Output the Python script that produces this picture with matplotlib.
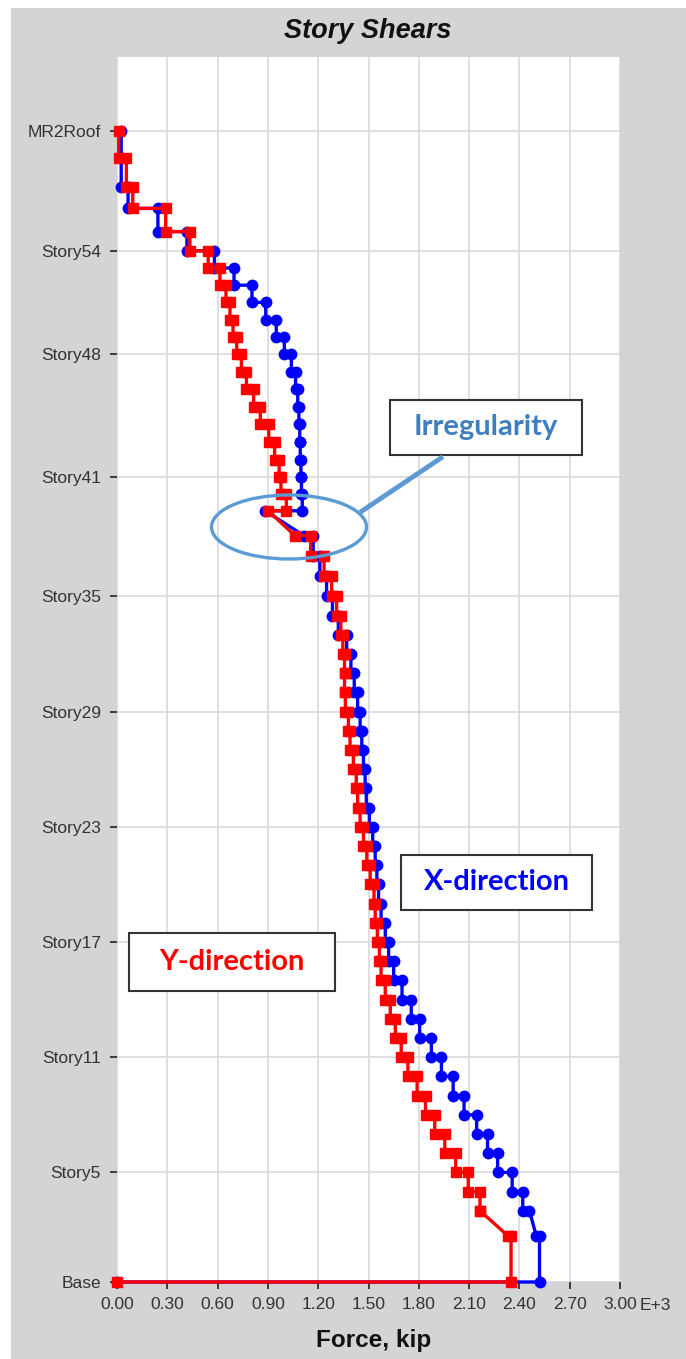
import numpy as np
import matplotlib.pyplot as plt
from matplotlib.patches import Rectangle, Ellipse
from matplotlib.lines import Line2D

plt.rcParams['font.family'] = ['Liberation Sans', 'DejaVu Sans']

# story heights (ft), top story first
story_heights = ([17, 18, 13.5, 14.5, 12] + [10.75] * 6 + [11] * 7
                 + [10.5, 10.5, 15.5, 13, 12.5, 12.5] + [12] * 30
                 + [12, 12, 15.5, 29])

# labelled levels (index from the top level) and their names
tick_levels = [0, 5, 11, 18, 24, 30, 36, 42, 48, 54, 58]
tick_names = ["MR2Roof", "Story54", "Story48", "Story41", "Story35", "Story29",
              "Story23", "Story17", "Story11", "Story5", "Base"]

x_ticks = [0.0, 0.3, 0.6, 0.9, 1.2, 1.5, 1.8, 2.1, 2.4, 2.7, 3.0]

# story shear at top of each story (E+3 kip), top story first
shear_x = [0.025, 0.025, 0.066, 0.244, 0.417, 0.581, 0.698, 0.805, 0.887, 0.95,
           0.998, 1.04, 1.065, 1.078, 1.085, 1.09, 1.093, 1.097, 1.10, 1.105,
           0.883, 1.17, 1.21, 1.25, 1.285, 1.32, 1.37, 1.395, 1.415, 1.435,
           1.45, 1.46, 1.47, 1.48, 1.487, 1.505, 1.525, 1.54, 1.55, 1.56,
           1.575, 1.60, 1.62, 1.65, 1.70, 1.755, 1.805, 1.875, 1.935, 2.005,
           2.07, 2.145, 2.21, 2.27, 2.357, 2.42, 2.46, 2.52]
shear_y = [0.01, 0.056, 0.094, 0.29, 0.435, 0.544, 0.614, 0.65, 0.674, 0.692,
           0.714, 0.742, 0.772, 0.815, 0.855, 0.905, 0.94, 0.967, 0.978, 1.01,
           0.902, 1.155, 1.235, 1.28, 1.31, 1.335, 1.347, 1.357, 1.357, 1.362,
           1.38, 1.39, 1.41, 1.427, 1.435, 1.45, 1.47, 1.49, 1.51, 1.533,
           1.54, 1.553, 1.565, 1.575, 1.60, 1.63, 1.66, 1.695, 1.735, 1.79,
           1.84, 1.895, 1.955, 2.02, 2.095, 2.165, 2.165, 2.35]
# stories whose shear at the bottom differs from the top
shear_x_bottom = {20: 1.115, 56: 2.50}
shear_y_bottom = {20: 1.061, 56: 2.33}

W, H = 686, 1359
total = sum(story_heights)
elev = total - np.concatenate([[0], np.cumsum(story_heights)])


def story_path(shear, bottom):
    xs, ys = [], []
    for i, v in enumerate(shear):
        xs += [v, bottom.get(i, v)]
        ys += [elev[i], elev[i + 1]]
    xs.append(0.0)
    ys.append(0.0)
    return xs, ys


fig = plt.figure(figsize=(W / 100, H / 100), dpi=100, facecolor='white')
fig.patches.append(Rectangle((11 / W, 0), 1, 1 - 8 / H, transform=fig.transFigure,
                             facecolor='#d4d4d4', edgecolor='none', zorder=-10))

ax = fig.add_axes([117 / W, 1 - 1282 / H, (620 - 117) / W, (1282 - 57) / H])
ax.set_facecolor('white')
for s in ax.spines.values():
    s.set_visible(False)

xx, yx = story_path(shear_x, shear_x_bottom)
xy, yy = story_path(shear_y, shear_y_bottom)
ax.plot(xx, yx, color='#0000ff', lw=2.4, marker='o', ms=7.5, clip_on=False, zorder=3)
ax.plot(xy, yy, color='#ff0000', lw=2.4, marker='s', ms=7.8, clip_on=False, zorder=4)

ax.set_xlim(0, 3.0)
ax.set_ylim(0, (1282 - 57) / 1.6)
ax.set_xticks(x_ticks)
ax.set_xticklabels([f"{t:.2f}" for t in x_ticks])
ax.set_yticks([elev[i] for i in tick_levels])
ax.set_yticklabels(tick_names)
ax.tick_params(direction='out', length=5, width=1.2, color='#222222',
               labelcolor='#333333', labelsize=12.5)
ax.tick_params(axis='x', pad=6)
ax.tick_params(axis='y', pad=6.5)
ax.grid(True, color='#d9d9d9', lw=1.2)
ax.set_axisbelow(True)

fig.text(368 / W, 1 - 31 / H, "Story Shears", ha='center', va='center',
         fontsize=19.5, fontweight='bold', fontstyle='italic', color='#111111')
fig.text(374 / W, 1 - 1341 / H, "Force, kip", ha='center', va='center',
         fontsize=17.5, fontweight='bold', color='#111111')
fig.text(640 / W, 1 - 1306 / H, "E+3", ha='left', va='center',
         fontsize=12.5, color='#333333')

# annotation boxes
boxes = [((390, 400, 582, 455), "Irregularity", '#3d7fc1'),
         ((401, 855, 592, 910), "X-direction", '#0000ff'),
         ((129, 933, 335, 991), "Y-direction", '#ff0000')]
for (x0, y0, x1, y1), label, col in boxes:
    fig.patches.append(Rectangle((x0 / W, 1 - y1 / H), (x1 - x0) / W, (y1 - y0) / H,
                                 transform=fig.transFigure, facecolor='white',
                                 edgecolor='#333333', lw=1.5, zorder=5))
    fig.text((x0 + x1) / 2 / W, 1 - (y0 + y1) / 2 / H, label, ha='center', va='center',
             fontsize=21, fontweight='bold', color=col, family=['Lato', 'DejaVu Sans'],
             zorder=6)

fig.patches.append(Ellipse((289 / W, 1 - 527 / H), 155 / W, 64 / H,
                           transform=fig.transFigure, facecolor='none',
                           edgecolor='#5b9bd5', lw=2.4, zorder=7))
fig.lines.append(Line2D([362 / W, 441 / W], [1 - 511 / H, 1 - 458 / H],
                        transform=fig.transFigure, color='#5b9bd5', lw=3.5, zorder=7))

fig.savefig('out.png', dpi=100)
